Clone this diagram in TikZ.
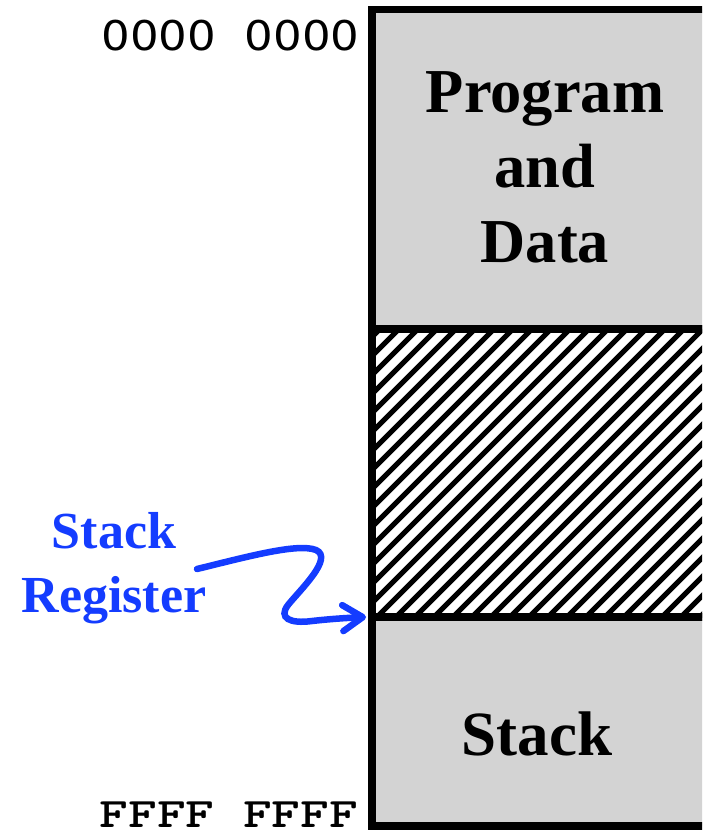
\documentclass[tikz,border=0pt]{standalone}
\usepackage{fontspec}
\usepackage{graphicx}
\setmainfont{Liberation Serif}
\newfontfamily\addrfont{DejaVu Sans}
\usetikzlibrary{arrows.meta}
\definecolor{memgray}{RGB}{211,211,211}
\definecolor{regblue}{RGB}{20,60,255}
\begin{document}
\begin{tikzpicture}[x=1pt,y=-1pt,
  region/.style={draw=black, line width=7.5pt, fill=memgray, rectangle,
    minimum width=348pt, inner sep=0pt, outer sep=0pt, anchor=north west},
  bigtext/.style={font=\fontsize{62.5}{75}\selectfont\bfseries, align=center, inner sep=0pt},
  bluetext/.style={text=regblue, font=\fontsize{52}{64}\selectfont\bfseries, align=center, inner sep=0pt},
  addr/.style={inner sep=0pt, anchor=base east},
  hatchline/.style={draw=black, line width=5.2pt},
  pointer/.style={draw=regblue, line width=6.5pt, line cap=round,
    -{Straight Barb[length=20pt,width=26pt,round]}}]
\useasboundingbox (0,0) rectangle (702,832);
\clip (0,0) rectangle (702,832);
\fill[white] (0,0) rectangle (702,832);
% hatching of the free area
\begin{scope}
  \clip (372,329) rectangle (720,617);
  \foreach \x in {73,92,...,740} {\draw[hatchline] (\x,617) -- ++(300,-300);}
\end{scope}
% memory regions
\node[region, minimum height=319.5pt] (prog) at (372,9.5) {};
\node[region, minimum height=288pt, fill=none] (free) at (372,329) {};
\node[region, minimum height=209pt] (stk) at (372,617) {};
% texts
\node[bigtext, anchor=base] (pdtext) at (545,262) {Program\\and\\Data};
\node[bigtext, font=\fontsize{63}{75}\selectfont\bfseries, anchor=base] (stktext) at (537,755) {Stack};
\node[bluetext, anchor=base] (lbl) at (114,612) {Stack\\Register};
\node[addr] (lo) at (360,50.5) {\scalebox{1.1}[1]{\addrfont\fontsize{41}{41}\selectfont 0000~~0000}};
\node[addr] (hi) at (358,827) {\scalebox{1.3}[1]{\fontsize{42}{42}\selectfont\ttfamily\bfseries FFFF FFFF}};
% stack register pointer
\coordinate (st) at (197,569);
\coordinate (tipp) at (366,617);
\draw[pointer] (st) .. controls (250,556) and (298,543) .. (316,550)
  .. controls (334,558) and (300,590) .. (288,605)
  .. controls (278,618) and (290,624) .. (312,621)
  .. controls (330,619) and (345,618) .. (tipp);
\end{tikzpicture}
\end{document}
